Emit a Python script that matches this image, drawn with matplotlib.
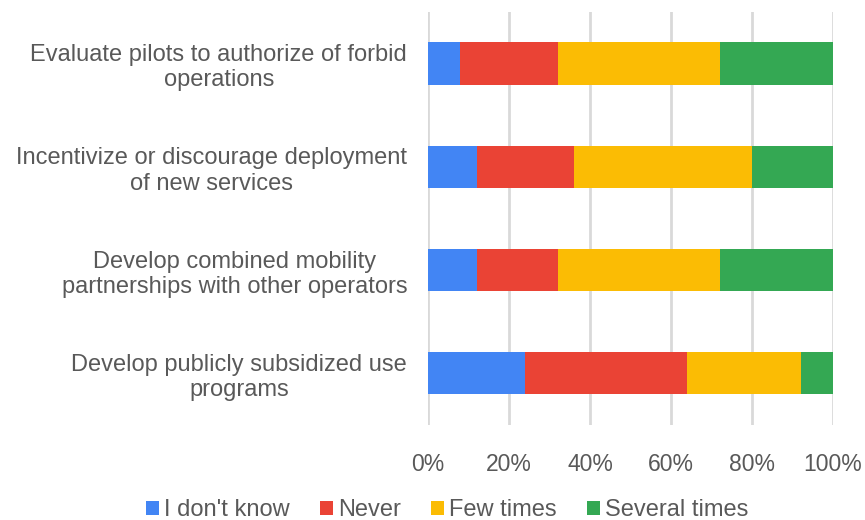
import matplotlib.pyplot as plt
import numpy as np

plt.rcParams['font.family'] = ['Liberation Sans', 'DejaVu Sans']

categories = [
    'Evaluate pilots to authorize of forbid\noperations',
    'Incentivize or discourage deployment\nof new services',
    'Develop combined mobility\npartnerships with other operators',
    'Develop publicly subsidized use\nprograms',
]
series_names = ["I don't know", 'Never', 'Few times', 'Several times']
dont_know = [8, 12, 12, 24]
never = [24, 24, 20, 40]
few_times = [40, 44, 40, 28]
several_times = [28, 20, 28, 8]
colors = ['#4285F4', '#EA4335', '#FBBC04', '#34A853']

text_color = '#595959'

fig = plt.figure(figsize=(8.65, 5.2), dpi=100)
ax = fig.add_axes([0.4948, 0.183, 0.4682, 0.794])

y = np.arange(len(categories))
left = np.zeros(len(categories))
for name, vals, c in zip(series_names, [dont_know, never, few_times, several_times], colors):
    ax.barh(y, vals, left=left, height=0.41, color=c, label=name, zorder=3)
    left += np.array(vals)

ax.set_ylim(len(categories) - 0.5, -0.5)
ax.set_xlim(0, 100)
ax.set_xticks(np.arange(0, 101, 20))
ax.set_xticklabels([f'{v}%' for v in range(0, 101, 20)])
ax.set_yticks(y)
ax.set_yticklabels(categories)
for lbl in ax.get_yticklabels():
    lbl.set_multialignment('center')

ax.xaxis.grid(True, color='#d9d9d9', linewidth=2, zorder=0)
for s in ax.spines.values():
    s.set_visible(False)
ax.tick_params(axis='both', length=0, colors=text_color)
ax.tick_params(axis='y', pad=15, labelsize=17)
ax.tick_params(axis='x', pad=20, labelsize=16.5)

fig.legend(loc='lower center', bbox_to_anchor=(0.517, -0.043), ncol=4, frameon=False,
           fontsize=17, labelcolor=text_color, handlelength=0.55, handleheight=0.55,
           handletextpad=0.2, columnspacing=1.3)

fig.savefig('out.png', dpi=100)
